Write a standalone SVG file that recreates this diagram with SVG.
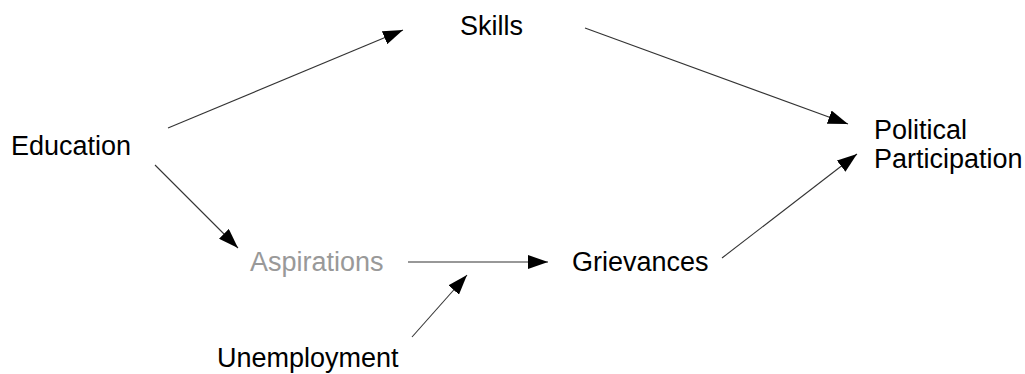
<svg xmlns="http://www.w3.org/2000/svg" width="1025" height="374" viewBox="0 0 1025 374">
<style>
  .lbl { font-family: "Liberation Sans", Arial, sans-serif; font-size: 27px; fill: #000; }
  .gray { fill: #999; }
  .edge { stroke: #333; stroke-width: 1.1; fill: none; marker-end: url(#ah); }
</style>
<defs>
  <marker id="ah" markerUnits="userSpaceOnUse" markerWidth="22" markerHeight="14" refX="20" refY="7" orient="auto">
    <path d="M0,0 L20,7 L0,14 Z" fill="#000"/>
  </marker>
</defs>
<rect width="1025" height="374" fill="#fff"/>
<g id="connectors">
  <line class="edge" x1="168" y1="128" x2="403" y2="30"/>
  <line class="edge" x1="585" y1="28" x2="848" y2="124"/>
  <line class="edge" x1="722" y1="258" x2="857" y2="154"/>
  <line class="edge" x1="155" y1="165" x2="238" y2="248"/>
  <line class="edge" x1="408" y1="262" x2="548" y2="262"/>
  <line class="edge" x1="412" y1="337" x2="467" y2="275"/>
</g>
<g id="education"><text class="lbl" x="11" y="155">Education</text></g>
<g id="skills"><text class="lbl" x="460" y="35">Skills</text></g>
<g id="political-participation"><text class="lbl" x="874" y="139">Political</text><text class="lbl" x="874" y="168">Participation</text></g>
<g id="aspirations"><text class="lbl gray" x="250" y="271">Aspirations</text></g>
<g id="grievances"><text class="lbl" x="572" y="271">Grievances</text></g>
<g id="unemployment"><text class="lbl" x="217" y="367">Unemployment</text></g>
</svg>
